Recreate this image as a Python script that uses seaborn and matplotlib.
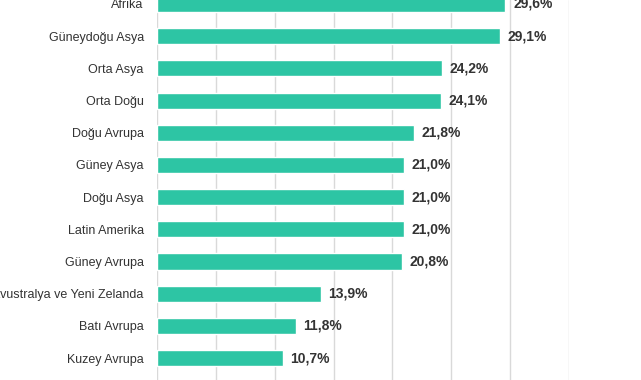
import matplotlib
matplotlib.use("Agg")
import matplotlib.pyplot as plt
import seaborn as sns
import pandas as pd

# bölgeler ve oranlar (%)
bolgeler = ["Afrika", "Güneydoğu Asya", "Orta Asya", "Orta Doğu", "Doğu Avrupa",
            "Güney Asya", "Doğu Asya", "Latin Amerika", "Güney Avrupa",
            "Avustralya ve Yeni Zelanda", "Batı Avrupa", "Kuzey Avrupa"]
oranlar = [29.6, 29.1, 24.2, 24.1, 21.8, 21.0, 21.0, 21.0, 20.8, 13.9, 11.8, 10.7]
etiketler = ["29,6%", "29,1%", "24,2%", "24,1%", "21,8%", "21,0%", "21,0%",
             "21,0%", "20,8%", "13,9%", "11,8%", "10,7%"]

dados = pd.DataFrame({"bolge": bolgeler, "oran": oranlar})

sns.set_style("white")
plt.rcParams["font.family"] = ["Liberation Sans", "DejaVu Sans"]

fig = plt.figure(figsize=(6.41, 3.8), dpi=100)
ax = fig.add_axes([157 / 641, 0, (569 - 157) / 641, 1])

sns.barplot(data=dados, y="bolge", x="oran", color="#2dc5a4", saturation=1,
            width=0.5, ax=ax, zorder=2)

ax.set_xlim(0, 35)
ax.set_ylim(11.68, -0.124)
ax.set_xticks(range(0, 36, 5))
ax.xaxis.grid(True, color="#d9d9d9", linewidth=1, zorder=0)
ax.set_axisbelow(True)
ax.tick_params(axis="x", bottom=False, labelbottom=False)
ax.tick_params(axis="y", left=False, pad=6, labelsize=9, labelcolor="#333333")
ax.set_xlabel("")
ax.set_ylabel("")
for s in ax.spines.values():
    s.set_visible(False)

# değer etiketleri
for i, (v, t) in enumerate(zip(oranlar, etiketler)):
    ax.annotate(t, (v, i), xytext=(5.5, 0), textcoords="offset points",
                va="center", ha="left", fontsize=10, fontweight="bold",
                color="#333333", annotation_clip=False)

fig.savefig("out.png", dpi=100)
